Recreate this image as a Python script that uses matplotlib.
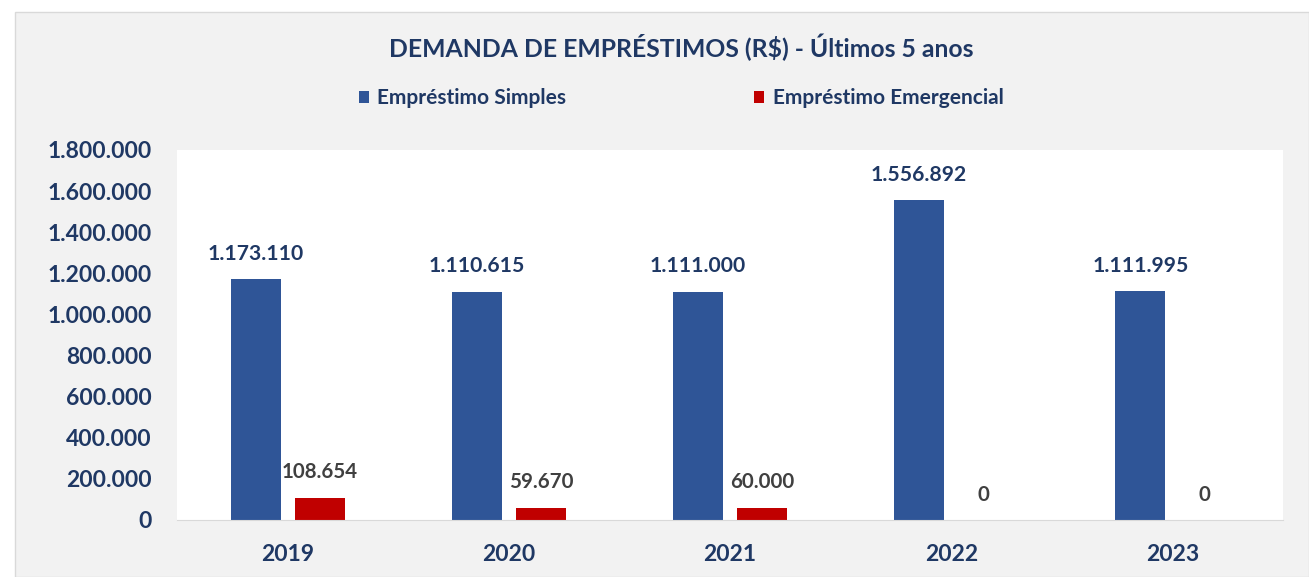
import numpy as np
import matplotlib
matplotlib.use('Agg')
import matplotlib.pyplot as plt
from matplotlib.patches import Rectangle

plt.rcParams['font.family'] = ['Lato', 'DejaVu Sans']

anos = ['2019', '2020', '2021', '2022', '2023']
simples = [1173110, 1110615, 1111000, 1556892, 1111995]
emergencial = [108654, 59670, 60000, 0, 0]
yticks = [0, 200000, 400000, 600000, 800000, 1000000, 1200000, 1400000, 1600000, 1800000]

azul = '#2F5597'
vermelho = '#C00000'
navy = '#1F3864'
cinza = '#404040'

def fmt(v):
    return f'{v:,.0f}'.replace(',', '.')

W, H = 1309, 577
fig = plt.figure(figsize=(W / 100, H / 100), dpi=100)
fig.patch.set_facecolor('white')
fig.patches.append(Rectangle((15 / W, 0), 1 - 15 / W, 1 - 12 / H,
                             transform=fig.transFigure, facecolor='#F2F2F2',
                             edgecolor='#D9D9D9', lw=1, zorder=-10))

ax = fig.add_axes([177 / W, 1 - 520 / H, (1283 - 177) / W, (520 - 150) / H])
ax.set_facecolor('white')

x = np.arange(len(anos))
bw = 0.226
b1 = ax.bar(x - 0.145, simples, bw, color=azul, label='Empréstimo Simples')
b2 = ax.bar(x + 0.145, emergencial, bw, color=vermelho, label='Empréstimo Emergencial')

for xi, v in zip(x, simples):
    ax.annotate(fmt(v), (xi - 0.145, v), xytext=(0, 11), textcoords='offset points',
                ha='center', va='bottom', fontsize=15.2, fontweight='bold', color=navy)
for xi, v in zip(x, emergencial):
    ax.annotate(fmt(v), (xi + 0.145, v), xytext=(0, 11), textcoords='offset points',
                ha='center', va='bottom', fontsize=14.8, fontweight='bold', color=cinza)

ax.set_xlim(-0.5, len(anos) - 0.5)
ax.set_ylim(0, 1800000)
ax.set_xticks(x)
ax.set_xticklabels(anos)
ax.set_yticks(yticks)
ax.set_yticklabels([fmt(v) for v in yticks])
ax.tick_params(axis='both', length=0, labelsize=16.5, labelcolor=navy)
ax.tick_params(axis='x', pad=17)
ax.tick_params(axis='y', pad=18)
for lbl in ax.get_xticklabels() + ax.get_yticklabels():
    lbl.set_fontweight('bold')
for s in ['top', 'right', 'left']:
    ax.spines[s].set_visible(False)
ax.spines['bottom'].set_color('#D9D9D9')

fig.text(681 / W, 1 - 47 / H, 'DEMANDA DE EMPRÉSTIMOS (R$) - Últimos 5 anos',
         ha='center', va='center', fontsize=17.8, fontweight='bold', color=navy)

leg = fig.legend(handles=[b1, b2], loc='center', bbox_to_anchor=(681 / W, 1 - 98 / H),
                 ncol=2, frameon=False, fontsize=15, handlelength=0.5, handleheight=0.5,
                 handletextpad=0.4, columnspacing=9)
for t in leg.get_texts():
    t.set_color(navy)
    t.set_fontweight('bold')

fig.savefig('out.png', dpi=100)
